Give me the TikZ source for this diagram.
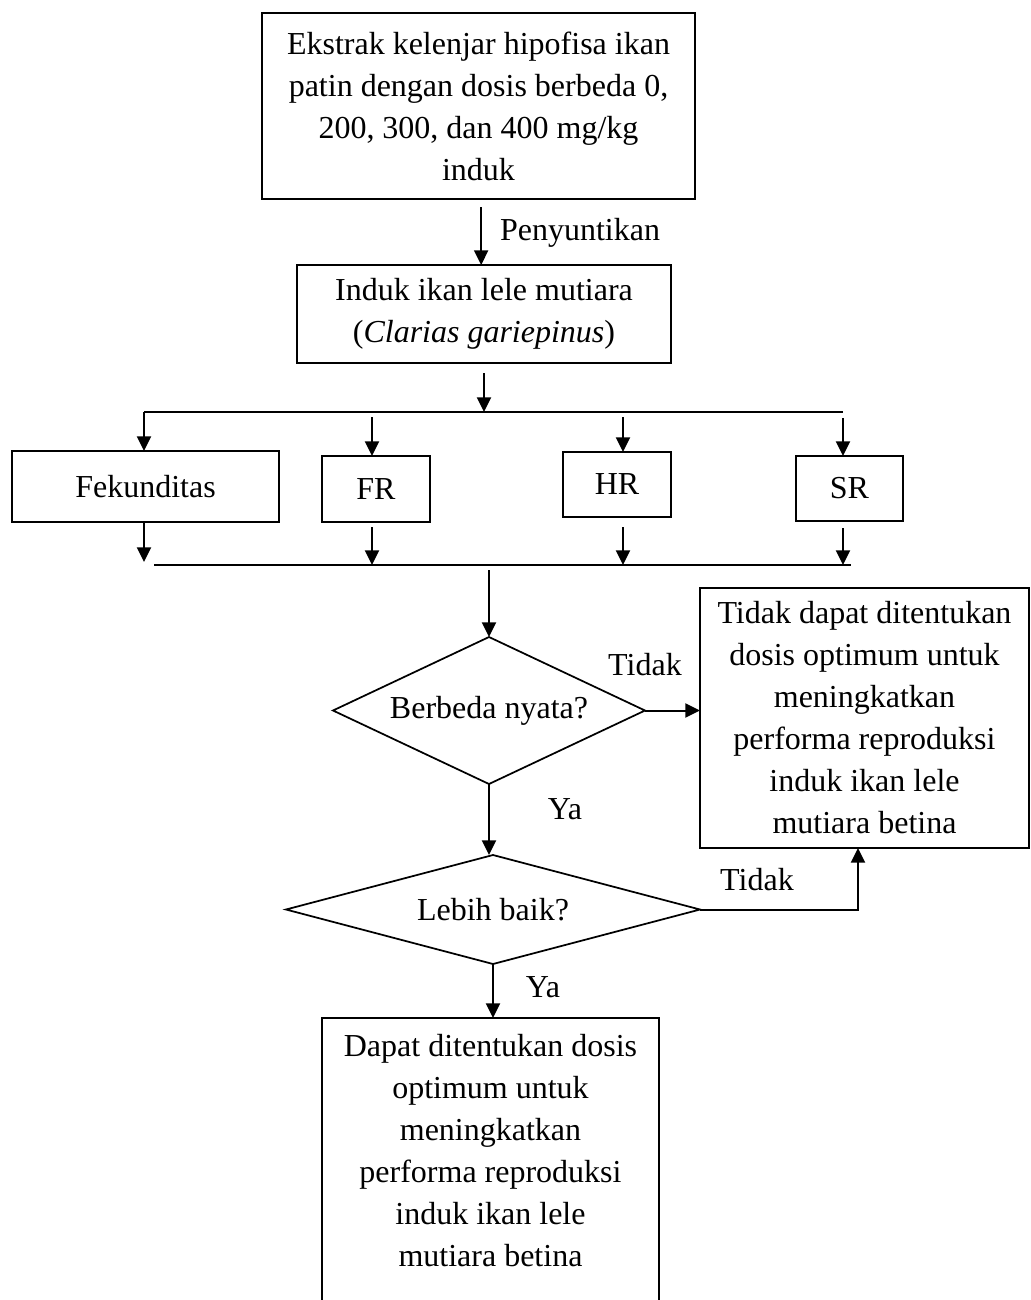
\documentclass[tikz,border=0pt]{standalone}
\usepackage{fontspec}
\setmainfont{Liberation Serif}
\usetikzlibrary{shapes.geometric,arrows.meta}
\begin{document}
\begin{tikzpicture}[x=0.75pt,y=-0.75pt,
  every node/.style={font=\fontsize{24pt}{31.5pt}\selectfont, inner sep=0pt, outer sep=0pt},
  box/.style={draw, line width=1.3pt, align=center},
  dia/.style={draw, line width=1.3pt, shape=diamond, align=center},
  arr/.style={-{Triangle[length=11pt,width=10.5pt]}, line width=1.5pt},
  ln/.style={line width=1.5pt},
]
\useasboundingbox (0,0) rectangle (1031,1300);
\clip (0,0) rectangle (1031,1300);

% boxes
\node[box, minimum width=324.75pt, minimum height=139.5pt] (b1) at (478.5,106)
  {Ekstrak kelenjar hipofisa ikan\\patin dengan dosis berbeda 0,\\200, 300, dan 400 mg/kg\\induk};
\node[box, minimum width=280.5pt, minimum height=73.5pt] (b2) at (484,314)
  {Induk ikan lele mutiara\\(\textit{Clarias gariepinus})};
\node[box, minimum width=200.25pt, minimum height=53.25pt] (fek) at (145.5,486.5) {Fekunditas};
\node[box, minimum width=81pt, minimum height=49.5pt] (fr) at (376,489) {FR};
\node[box, minimum width=81pt, minimum height=48.75pt] (hr) at (617,484.5) {HR};
\node[box, minimum width=80.25pt, minimum height=48.75pt] (sr) at (849.5,488.5) {SR};
\node[dia, aspect=2.1, minimum width=234pt, minimum height=110.25pt] (d1) at (489,710.5) {Berbeda nyata?};
\node[dia, aspect=3.8, minimum width=310.5pt, minimum height=81.75pt] (d2) at (493,909.5) {Lebih baik?};
\node[box, minimum width=246.75pt, minimum height=195pt] (b3) at (864.5,718)
  {Tidak dapat ditentukan\\dosis optimum untuk\\meningkatkan\\performa reproduksi\\induk ikan lele\\mutiara betina};
\node[box, anchor=north, minimum width=252.75pt, minimum height=240pt] (b4) at (490.5,1018) {};
\node[align=center] (b4text) at (490.5,1151)
  {Dapat ditentukan dosis\\optimum untuk\\meningkatkan\\performa reproduksi\\induk ikan lele\\mutiara betina};

% labels
\node[anchor=west] (lpeny) at (500,233) {Penyuntikan};
\node (ltidak1) at (645,665) {Tidak};
\node (lya1) at (565,809) {Ya};
\node (ltidak2) at (757,880) {Tidak};
\node (lya2) at (543,987) {Ya};

% split / merge lines
\coordinate (sL) at (144,412);
\coordinate (sR) at (843,412);
\coordinate (mL) at (154,565);
\coordinate (mR) at (851,565);

% connectors
\draw[arr, shorten <=6pt] ([xshift=2pt]b1.south) -- ([xshift=2pt]b1.south |- b2.north);
\draw[arr, shorten <=7.5pt] (b2.south) -- (b2.south |- sL);
\draw[ln] (sL) -- (sR);
\draw[arr] (sL) -- (sL |- fek.north);
\draw[arr] ([xshift=-3pt]fr.north |- 0,417) -- ([xshift=-3pt]fr.north);
\draw[arr] ([xshift=4.5pt]hr.north |- 0,417) -- ([xshift=4.5pt]hr.north);
\draw[arr] (sR |- 0,418) -- (sR |- sr.north);

\draw[ln] (mL) -- (mR);
\draw[arr] (sL |- fek.south) -- (sL |- 0,562);
\draw[arr] ([xshift=-3pt]fr.south |- 0,527) -- ([xshift=-3pt]fr.south |- mL);
\draw[arr] ([xshift=4.5pt]hr.south |- 0,527) -- ([xshift=4.5pt]hr.south |- mL);
\draw[arr] (sR |- 0,528) -- (sR |- mL);

\draw[arr] (d1.north |- 0,570) -- (d1.north);
\draw[arr] (d1.south) -- (d1.south |- d2.north);
\draw[arr] (d1.east) -- (d1.east -| b3.west);
\draw[arr] (d2.east) -| ([xshift=-4.9pt]b3.south);
\draw[arr] (d2.south) -- (d2.south |- b4.north);
\end{tikzpicture}
\end{document}
